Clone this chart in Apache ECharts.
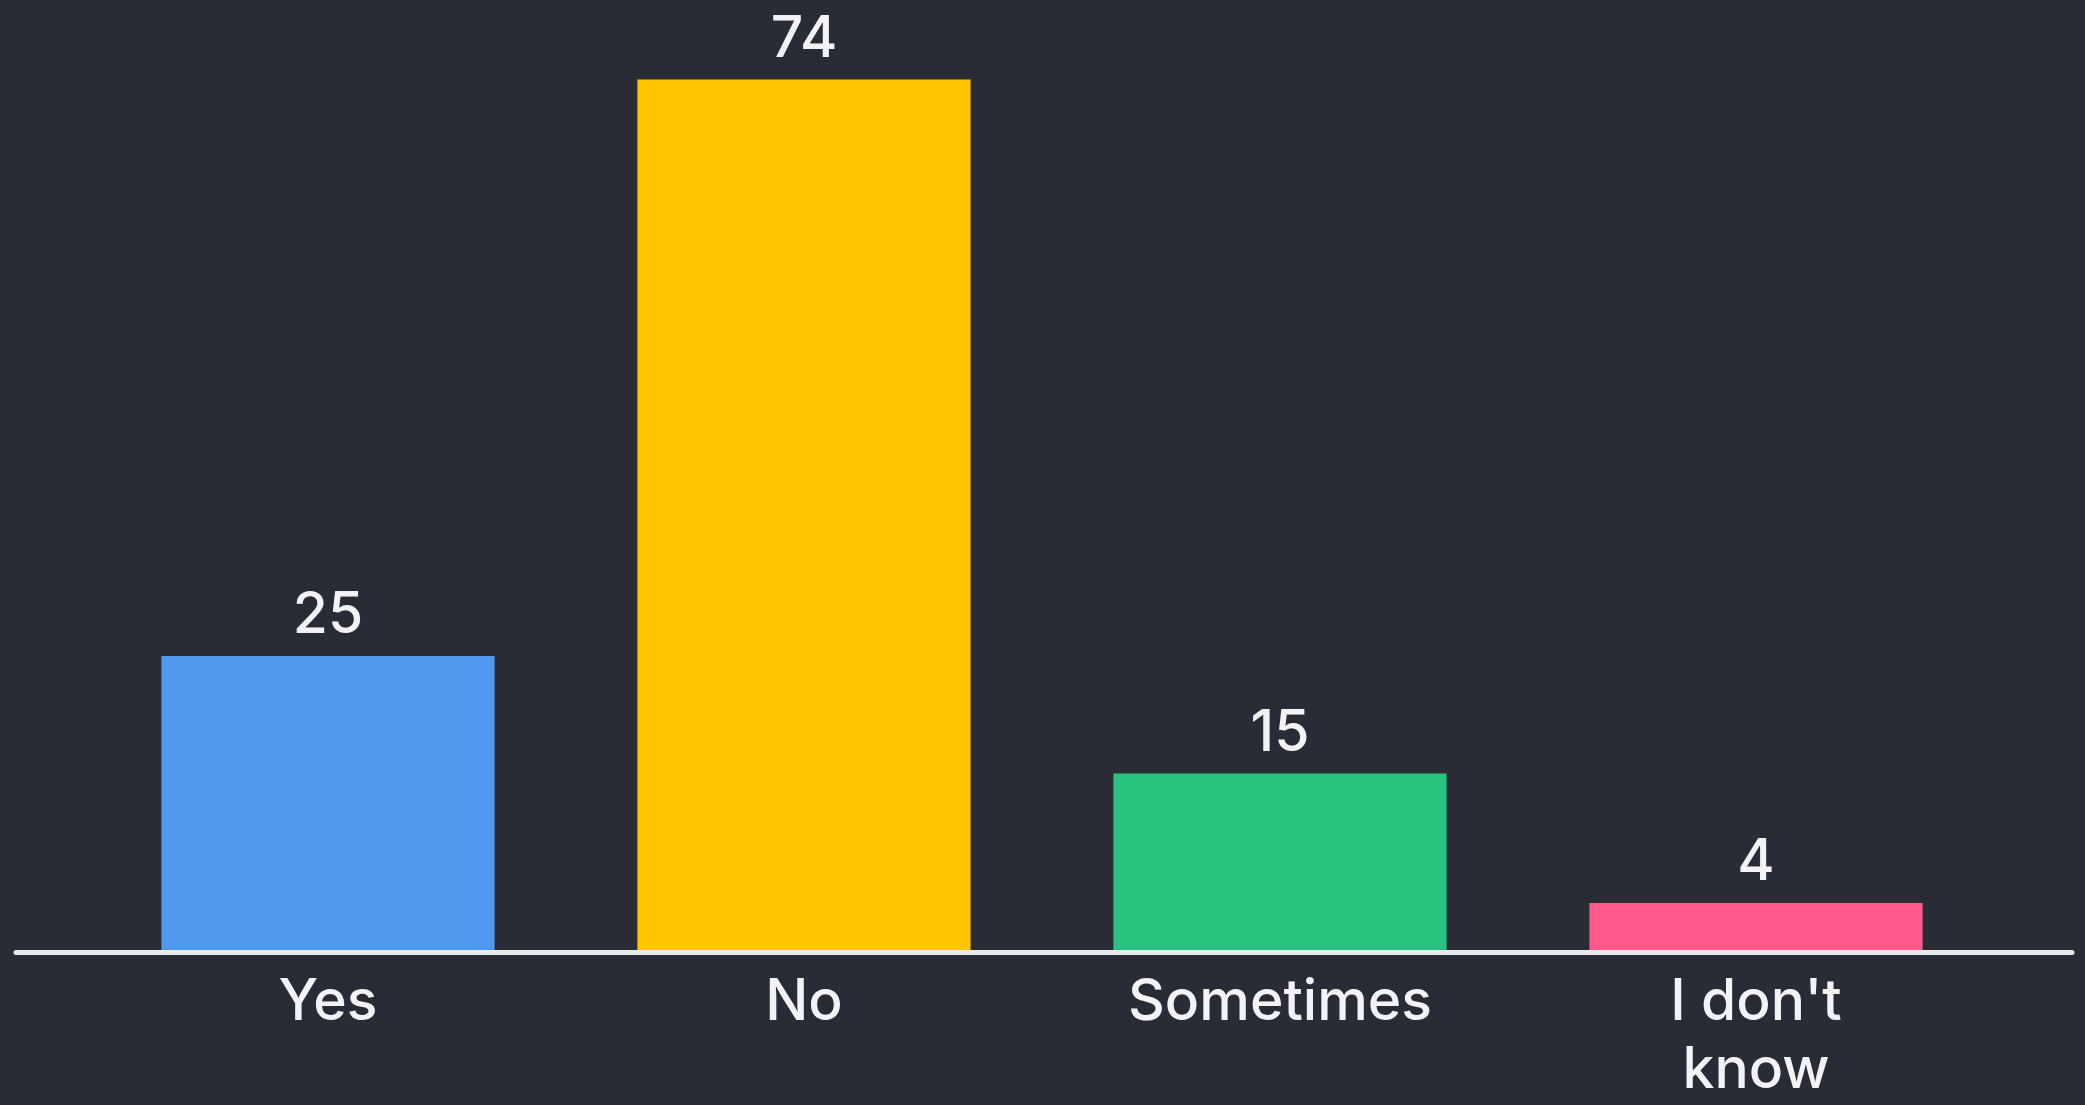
<!DOCTYPE html>
<html>
<head>
<meta charset="utf-8">
<title>Survey answers</title>
<script src="https://cdn.jsdelivr.net/npm/echarts@6/dist/echarts.min.js"></script>
<style>
  html, body { margin: 0; padding: 0; background: #292c35; }
  #chart { width: 2085px; height: 1105px; }
</style>
</head>
<body>
<div id="chart"></div>
<script>
const categories = ['Yes', 'No', 'Sometimes', "I don't\nknow"]
const values = [25, 74, 15, 4]
const barColors = ['#4f98ee', '#ffc400', '#28c27e', '#ff5a8c']

const textColor = '#f2f3f7'
const fontFamily = 'Inter, Lato, sans-serif'

const chart = echarts.init(document.getElementById('chart'))

const barData = values.map((v, i) => ({
  value: v,
  itemStyle: { color: barColors[i] }
}))

const option = {
  backgroundColor: '#292c35',
  animation: false,
  grid: [
    // bars
    { left: 90, right: 91, top: 9, bottom: 153 },
    // wider baseline that runs almost edge to edge
    { left: 16, right: 13, top: 9, bottom: 153 }
  ],
  xAxis: [{
    type: 'category',
    gridIndex: 0,
    data: categories,
    axisLine: { show: false },
    axisTick: { show: false },
    axisLabel: {
      color: textColor,
      fontFamily,
      fontSize: 57,
      fontWeight: 500,
      lineHeight: 68,
      margin: 19,
      interval: 0
    }
  }, {
    type: 'value',
    gridIndex: 1,
    min: 0,
    max: 1,
    axisLine: { show: true, lineStyle: { color: '#e9eaef', width: 5 } },
    axisTick: { show: false },
    axisLabel: { show: false },
    splitLine: { show: false }
  }],
  yAxis: [{
    type: 'value',
    gridIndex: 0,
    min: 0,
    max: 80,
    show: false
  }, {
    type: 'value',
    gridIndex: 1,
    show: false
  }],
  series: [{
    type: 'bar',
    xAxisIndex: 0,
    yAxisIndex: 0,
    barWidth: '70%',
    data: barData,
    label: {
      show: true,
      position: 'top',
      distance: 6,
      color: textColor,
      fontFamily,
      fontSize: 57,
      fontWeight: 500,
      lineHeight: 68
    }
  }]
}

chart.setOption(option)
</script>
</body>
</html>
